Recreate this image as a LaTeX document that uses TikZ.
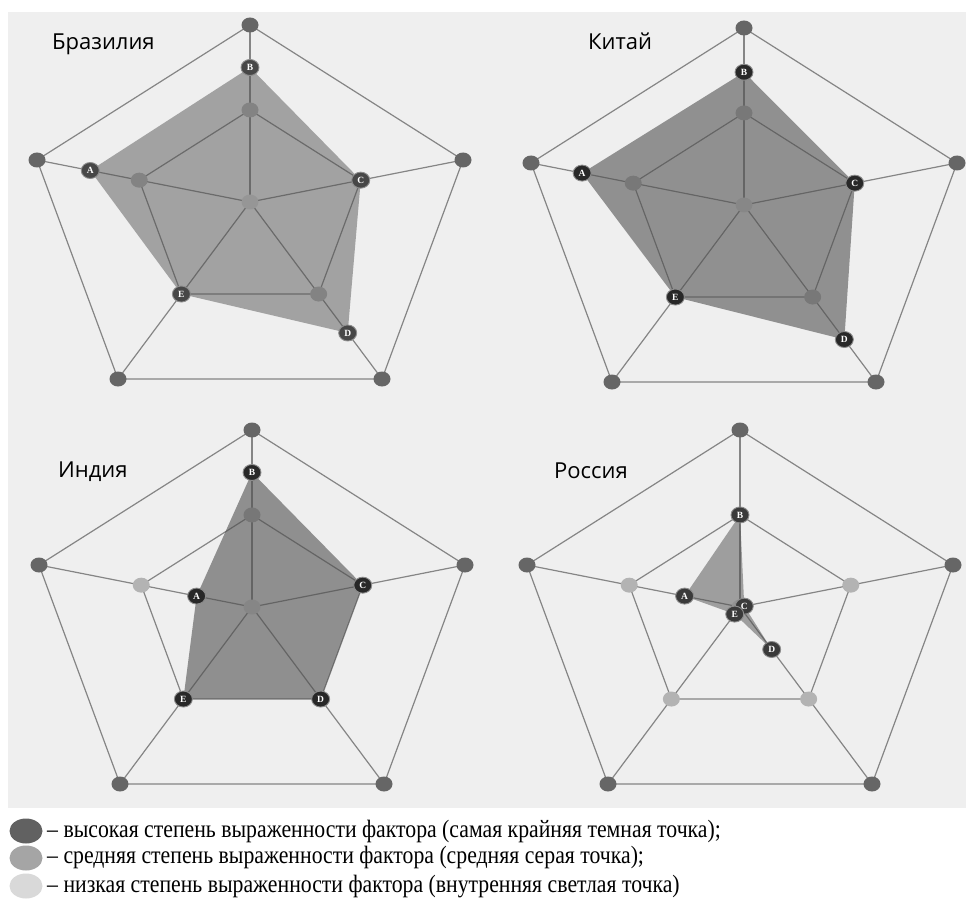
\documentclass[tikz,border=0pt]{standalone}
\usepackage{fontspec}
\setmainfont{Liberation Serif}
\newfontfamily\titlefont{Open Sans}
\newfontfamily\keyfont[FakeStretch=0.87]{Liberation Serif}
\usetikzlibrary{calc,shapes.geometric}

\definecolor{panelbg}{HTML}{EFEFEF}
\definecolor{webgray}{HTML}{858585}
\definecolor{dotdark}{HTML}{666666}
\definecolor{dotmid}{HTML}{B3B3B3}
\definecolor{dotlight}{HTML}{D9D9D9}
\definecolor{areagray}{HTML}{4F4F4F}
\definecolor{tagbra}{HTML}{474747}
\definecolor{tagchn}{HTML}{282828}
\definecolor{tagind}{HTML}{282828}
\definecolor{tagrus}{HTML}{3A3A3A}

\begin{document}
\begin{tikzpicture}[x=1pt, y=-1pt, line join=round]

    \tikzstyle{webline}   = [draw=webgray, line width=1.2pt]
    \tikzstyle{vdot}      = [ellipse, inner sep=0pt, minimum width=17pt, minimum height=15pt]
    \tikzstyle{tag}       = [ellipse, inner sep=0pt, minimum width=18pt, minimum height=16pt, draw=white!55!black, line width=0.9pt, text=white, font=\fontsize{9.5}{9.5}\selectfont\bfseries]
    \tikzstyle{chartname} = [anchor=base west, inner sep=0pt, font=\titlefont\fontsize{22}{26}\selectfont]
    \tikzstyle{keydot}    = [ellipse, inner sep=0pt, minimum width=33pt, minimum height=25pt]
    \tikzstyle{keytext}   = [anchor=base west, inner sep=0pt, font=\keyfont\fontsize{25}{28}\selectfont]

    \useasboundingbox (0,0) rectangle (966,904);
    \fill[white] (0,0) rectangle (966,904);
    \fill[panelbg] (8,12) rectangle (966,808);

    % web of each chart
    \foreach \ch/\cx/\cy in {bra/250/202, chn/744/205, ind/252/607, rus/740/607} {
        \coordinate (\ch) at (\cx,\cy);
        \foreach \ax/\dx/\dy in {b/0/-177, c/213/-42, d/132/177, e/-132/177, a/-213/-42} {
            \coordinate (\ch-o\ax) at ($(\ch)+(\dx,\dy)$);
            \coordinate (\ch-m\ax) at ($(\ch)+0.52*(\dx,\dy)$);
        }
        \draw[webline] (\ch-ob) -- (\ch-oc) -- (\ch-od) -- (\ch-oe) -- (\ch-oa) -- cycle;
        \draw[webline] (\ch-mb) -- (\ch-mc) -- (\ch-md) -- (\ch-me) -- (\ch-ma) -- cycle;
        \foreach \ax in {a,b,c,d,e}
            \draw[webline] (\ch-o\ax) -- (\ch);
        \foreach \ax in {a,b,c,d,e} {
            \node[vdot, fill=dotdark] (\ch-O\ax) at (\ch-o\ax) {};
            \node[vdot, fill=dotmid]  (\ch-M\ax) at (\ch-m\ax) {};
        }
        \node[vdot, fill=dotlight] (\ch-C) at (\ch) {};
    }

    % values A..E, shaded area and letter tags
    \foreach \ch/\va/\vb/\vc/\vd/\ve/\op in {bra/.75/.76/.52/.74/.52/.48, chn/.76/.75/.52/.76/.52/.59,
                                             ind/.26/.76/.52/.52/.52/.60, rus/.26/.52/.02/.24/.04/.50} {
        \coordinate (\ch-pa) at ($(\ch)!\va!(\ch-oa)$);
        \coordinate (\ch-pb) at ($(\ch)!\vb!(\ch-ob)$);
        \coordinate (\ch-pc) at ($(\ch)!\vc!(\ch-oc)$);
        \coordinate (\ch-pd) at ($(\ch)!\vd!(\ch-od)$);
        \coordinate (\ch-pe) at ($(\ch)!\ve!(\ch-oe)$);
        \fill[areagray, opacity=\op] (\ch-pb) -- (\ch-pc) -- (\ch-pd) -- (\ch-pe) -- (\ch-pa) -- cycle;
        \node[tag, fill=tag\ch] (\ch-A) at (\ch-pa) {A};
        \node[tag, fill=tag\ch] (\ch-B) at (\ch-pb) {B};
        \node[tag, fill=tag\ch] (\ch-C) at (\ch-pc) {C};
        \node[tag, fill=tag\ch] (\ch-D) at (\ch-pd) {D};
        \node[tag, fill=tag\ch] (\ch-E) at (\ch-pe) {E};
    }

    \node (name-bra) [chartname] at (52,50)  {Бразилия};
    \node (name-chn) [chartname] at (588,50) {Китай};
    \node (name-ind) [chartname] at (58,477) {Индия};
    \node (name-rus) [chartname] at (554,478) {Россия};

    % key
    \node (key-high) [keydot, fill=dotdark!95!black] at (26,831) {};
    \node (key-mid)  [keydot, fill=dotmid!92!black]  at (26,858) {};
    \node (key-low)  [keydot, fill=dotlight]        at (26,886) {};

    \node (key-high-text) [keytext] at (47,837) {– высокая степень выраженности фактора (самая крайняя темная точка);};
    \node (key-mid-text)  [keytext] at (47,863) {– средняя степень выраженности фактора (средняя серая точка);};
    \node (key-low-text)  [keytext] at (47,892) {– низкая степень выраженности фактора (внутренняя светлая точка)};
\end{tikzpicture}
\end{document}
